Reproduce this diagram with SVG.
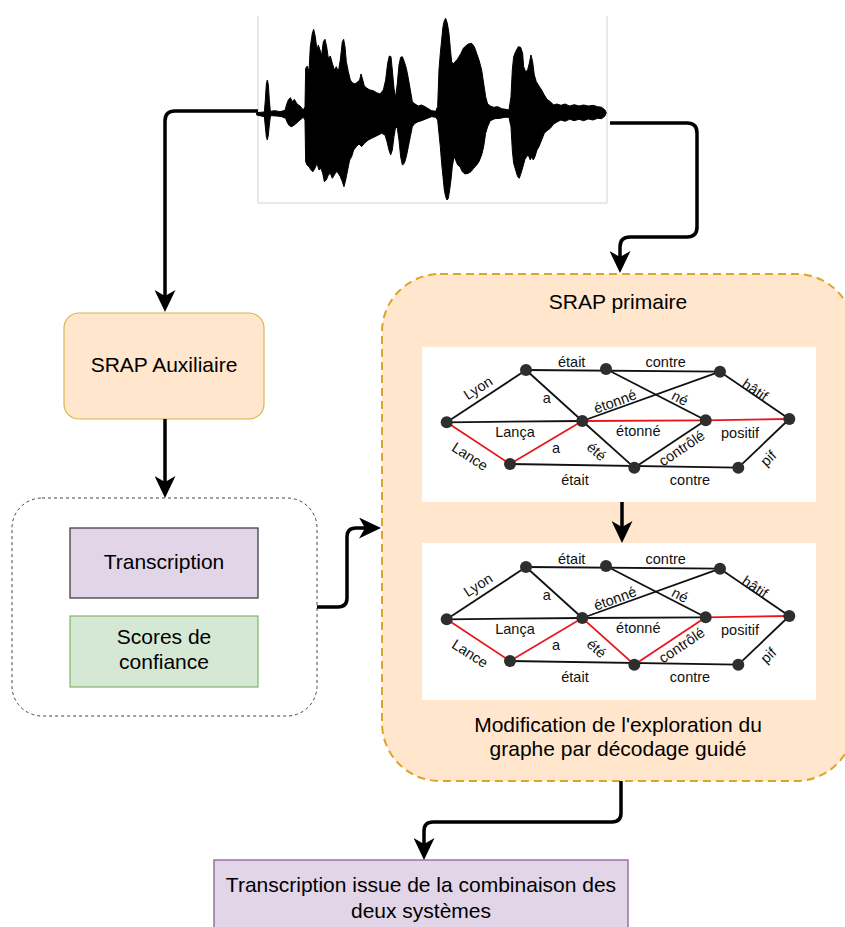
<svg xmlns="http://www.w3.org/2000/svg" width="845" height="927" viewBox="0 0 845 927">
  <style>
    .lbl { font-family: "Liberation Sans", Arial, Helvetica, sans-serif; font-size: 21px; fill: #000; text-anchor: middle; }
    .gl { font-family: "Liberation Sans", Arial, Helvetica, sans-serif; font-size: 14.5px; fill: #111; text-anchor: middle; dominant-baseline: central; }
    .conn { fill: none; stroke: #000; stroke-width: 3.5; stroke-linejoin: round; marker-end: url(#arrow); }
    .e { stroke: #111; stroke-width: 1.8; fill: none; }
    .r { stroke: #e8161c; stroke-width: 1.8; fill: none; }
    .n { fill: #2e2e2e; }
  </style>
  <defs>
    <marker id="arrow" viewBox="0 0 22 21" refX="6" refY="10.5" markerWidth="22" markerHeight="21" markerUnits="userSpaceOnUse" orient="auto">
      <path d="M0,0 L22,10.5 L0,21 L6,10.5 Z" fill="#000"/>
    </marker>
  </defs>

  <rect width="845" height="927" fill="#fff"/>

  <!-- audio signal -->
  <g id="waveform">
    <rect x="258" y="15" width="349" height="188" fill="#fff"/>
    <path d="M258,16 V203 H607 V16" fill="none" stroke="#d2d2d2" stroke-width="1"/>
    <g transform="translate(255,0) scale(0.3333)">
      <path fill="#000" stroke="#000" stroke-width="3" stroke-linejoin="miter" d="M 5,338 L 28,336 L 31,300 L 34,252 L 37,240 L 40,255 L 43,300 L 46,334 L 60,332 L 75,335 L 90,331 L 96,310 L 100,300 L 106,293 L 112,305 L 118,298 L 126,312 L 135,318 L 145,330 L 150,320 L 152,205 L 157,198 L 162,215 L 166,140 L 172,100 L 176,88 L 181,110 L 186,150 L 190,135 L 195,150 L 200,165 L 205,125 L 210,118 L 215,140 L 220,175 L 226,168 L 232,190 L 238,210 L 244,200 L 250,215 L 256,180 L 262,125 L 266,118 L 270,140 L 274,185 L 280,215 L 286,240 L 292,248 L 300,252 L 308,246 L 314,240 L 318,222 L 322,235 L 328,258 L 336,265 L 345,270 L 355,272 L 365,278 L 375,282 L 385,270 L 392,240 L 398,190 L 403,168 L 408,170 L 412,210 L 417,265 L 422,292 L 427,250 L 432,195 L 437,172 L 442,170 L 448,185 L 454,205 L 460,235 L 466,270 L 472,305 L 480,312 L 490,318 L 500,315 L 510,320 L 520,326 L 530,332 L 542,334 L 548,320 L 552,210 L 556,160 L 560,120 L 564,80 L 568,62 L 572,55 L 577,70 L 582,100 L 586,145 L 590,185 L 595,192 L 600,185 L 606,180 L 612,170 L 618,160 L 625,145 L 632,138 L 640,132 L 650,130 L 658,140 L 665,160 L 672,180 L 680,210 L 686,250 L 692,290 L 698,312 L 706,318 L 716,322 L 728,320 L 740,326 L 752,328 L 762,330 L 768,290 L 772,210 L 776,170 L 782,155 L 790,140 L 797,142 L 803,160 L 806,200 L 812,215 L 818,210 L 823,190 L 828,165 L 833,185 L 838,225 L 844,245 L 852,258 L 860,270 L 868,285 L 876,298 L 886,305 L 896,315 L 906,312 L 918,316 L 930,312 L 944,318 L 958,314 L 972,318 L 986,315 L 1000,318 L 1014,316 L 1028,320 L 1040,322 L 1050,330 L 1054,338 L 1050,348 L 1040,356 L 1028,355 L 1014,360 L 1000,357 L 986,362 L 972,358 L 958,362 L 944,358 L 930,364 L 918,360 L 906,366 L 896,372 L 886,385 L 876,392 L 868,400 L 860,420 L 852,440 L 846,450 L 840,470 L 835,480 L 830,470 L 826,480 L 820,465 L 815,470 L 810,478 L 804,500 L 798,520 L 793,535 L 788,530 L 782,510 L 776,490 L 772,450 L 768,380 L 762,352 L 750,352 L 735,355 L 720,356 L 706,362 L 698,380 L 692,400 L 686,440 L 680,465 L 672,485 L 665,495 L 656,505 L 648,515 L 640,520 L 630,522 L 622,515 L 615,500 L 608,495 L 602,480 L 597,470 L 592,500 L 588,540 L 584,570 L 580,595 L 576,600 L 572,590 L 568,570 L 564,530 L 560,490 L 556,440 L 552,400 L 548,360 L 542,352 L 530,350 L 520,354 L 510,358 L 500,362 L 490,365 L 480,370 L 472,380 L 466,410 L 460,440 L 454,470 L 448,490 L 442,495 L 437,470 L 432,420 L 427,385 L 422,380 L 417,410 L 412,450 L 407,465 L 402,450 L 396,425 L 390,405 L 380,400 L 370,405 L 360,410 L 350,415 L 340,420 L 330,428 L 320,440 L 312,432 L 304,440 L 296,450 L 290,470 L 284,480 L 278,510 L 272,540 L 267,560 L 262,545 L 256,530 L 250,520 L 244,515 L 238,525 L 232,535 L 226,520 L 220,525 L 214,540 L 208,545 L 203,520 L 198,505 L 192,510 L 186,490 L 180,505 L 174,515 L 168,510 L 162,500 L 156,495 L 152,485 L 150,360 L 145,352 L 135,360 L 126,368 L 118,375 L 110,380 L 104,378 L 98,370 L 92,355 L 80,350 L 65,348 L 50,347 L 46,350 L 43,375 L 40,405 L 37,420 L 34,410 L 31,380 L 28,350 L 5,345 Z"/>
    </g>
  </g>

  <!-- auxiliary recogniser -->
  <g id="srap-auxiliaire">
    <rect x="64" y="313" width="200" height="106" rx="15" fill="#ffe6cc" stroke="#d6b656" stroke-width="1.2"/>
    <text class="lbl" x="164" y="372">SRAP Auxiliaire</text>
  </g>

  <!-- auxiliary outputs -->
  <g id="sorties-auxiliaires">
    <rect x="12" y="498" width="305" height="218" rx="30" fill="#fff" stroke="#444" stroke-width="1" stroke-dasharray="3 3"/>
  </g>
  <g id="transcription">
    <rect x="70" y="528" width="188" height="70" fill="#e1d5e7" stroke="#333" stroke-width="1.2"/>
    <text class="lbl" x="164" y="569">Transcription</text>
  </g>
  <g id="scores">
    <rect x="70" y="616" width="188" height="71" fill="#d5e8d4" stroke="#82b366" stroke-width="1.2"/>
    <text class="lbl" x="164" y="644">Scores de</text>
    <text class="lbl" x="164" y="669">confiance</text>
  </g>

  <!-- primary recogniser -->
  <g id="srap-primaire">
    <rect x="382" y="274" width="472" height="507" rx="58" fill="#ffe6cc" stroke="#dba52a" stroke-width="2" stroke-dasharray="8 5"/>
    <text class="lbl" x="618" y="309">SRAP primaire</text>
    <text class="lbl" x="618" y="732">Modification de l'exploration du</text>
    <text class="lbl" x="618" y="756">graphe par décodage guidé</text>
  </g>

  <!-- word lattice, before guided decoding -->
  <g id="graphe-initial">
    <rect x="422" y="347" width="394" height="155" fill="#fff"/>
    <path class="e" d="M446.7,422.3 L526,370"/>
    <path class="e" d="M526,370 L720,371.7"/>
    <path class="e" d="M720,371.7 L789.3,419"/>
    <path class="e" d="M526,370 L582.3,421"/>
    <path class="e" d="M582.3,421 L720,371.7"/>
    <path class="e" d="M606,369 L705.7,420.3"/>
    <path class="e" d="M446.7,422.3 L582.3,421"/>
    <path class="e" d="M582.3,421 L634.3,467.7"/>
    <path class="e" d="M634.3,467.7 L705.7,420.3"/>
    <path class="e" d="M510,464 L738.3,467.7"/>
    <path class="e" d="M738.3,467.7 L789.3,419"/>
    <path class="r" d="M446.7,422.3 L510,464 L582.3,421"/>
    <path class="r" d="M582.3,421 L705.7,420.3 L789.3,419"/>
    <circle class="n" cx="446.7" cy="422.3" r="6"/>
    <circle class="n" cx="526" cy="370" r="6"/>
    <circle class="n" cx="606" cy="369" r="6"/>
    <circle class="n" cx="720" cy="371.7" r="6"/>
    <circle class="n" cx="789.3" cy="419" r="6"/>
    <circle class="n" cx="582.3" cy="421" r="6"/>
    <circle class="n" cx="705.7" cy="420.3" r="6"/>
    <circle class="n" cx="510" cy="464" r="6"/>
    <circle class="n" cx="634.3" cy="467.7" r="6"/>
    <circle class="n" cx="738.3" cy="467.7" r="6"/>
    <text class="gl" transform="translate(478,388) rotate(-33)">Lyon</text>
    <text class="gl" x="571.7" y="361.5">était</text>
    <text class="gl" x="665.7" y="361.5">contre</text>
    <text class="gl" transform="translate(755,390) rotate(34)">hâtif</text>
    <text class="gl" x="546.7" y="398">a</text>
    <text class="gl" transform="translate(615,401.5) rotate(-20)">étonné</text>
    <text class="gl" transform="translate(680,398) rotate(28)">né</text>
    <text class="gl" x="515" y="431.5">Lança</text>
    <text class="gl" x="638.3" y="431">étonné</text>
    <text class="gl" x="740" y="433">positif</text>
    <text class="gl" transform="translate(470,456.5) rotate(33)">Lance</text>
    <text class="gl" x="556" y="447.5">a</text>
    <text class="gl" transform="translate(596.7,451.5) rotate(42)">été</text>
    <text class="gl" transform="translate(681.7,448.3) rotate(-34)">contrôlé</text>
    <text class="gl" x="575" y="480">était</text>
    <text class="gl" x="690" y="480">contre</text>
    <text class="gl" transform="translate(768.3,458.3) rotate(-44)">pif</text>
  </g>

  <!-- word lattice, after guided decoding -->
  <g id="graphe-modifie" transform="translate(0,197)">
    <rect x="422" y="346" width="394" height="157" fill="#fff"/>
    <path class="e" d="M446.7,422.3 L526,370"/>
    <path class="e" d="M526,370 L720,371.7"/>
    <path class="e" d="M720,371.7 L789.3,419"/>
    <path class="e" d="M526,370 L582.3,421"/>
    <path class="e" d="M582.3,421 L720,371.7"/>
    <path class="e" d="M606,369 L705.7,420.3"/>
    <path class="e" d="M446.7,422.3 L582.3,421"/>
    <path class="e" d="M510,464 L738.3,467.7"/>
    <path class="e" d="M738.3,467.7 L789.3,419"/>
    <path class="e" d="M582.3,421 L705.7,420.3" stroke-width="3.2"/>
    <path class="r" d="M446.7,422.3 L510,464 L582.3,421 L634.3,467.7"/>
    <path class="r" d="M634.3,467.7 L705.7,420.3" stroke-width="3.6"/>
    <path class="r" d="M705.7,420.3 L789.3,419"/>
    <circle class="n" cx="446.7" cy="422.3" r="6"/>
    <circle class="n" cx="526" cy="370" r="6"/>
    <circle class="n" cx="606" cy="369" r="6"/>
    <circle class="n" cx="720" cy="371.7" r="6"/>
    <circle class="n" cx="789.3" cy="419" r="6"/>
    <circle class="n" cx="582.3" cy="421" r="6"/>
    <circle class="n" cx="705.7" cy="420.3" r="6"/>
    <circle class="n" cx="510" cy="464" r="6"/>
    <circle class="n" cx="634.3" cy="467.7" r="6"/>
    <circle class="n" cx="738.3" cy="467.7" r="6"/>
    <text class="gl" transform="translate(478,388) rotate(-33)">Lyon</text>
    <text class="gl" x="571.7" y="361.5">était</text>
    <text class="gl" x="665.7" y="361.5">contre</text>
    <text class="gl" transform="translate(755,390) rotate(34)">hâtif</text>
    <text class="gl" x="546.7" y="398">a</text>
    <text class="gl" transform="translate(615,401.5) rotate(-20)">étonné</text>
    <text class="gl" transform="translate(680,398) rotate(28)">né</text>
    <text class="gl" x="515" y="431.5">Lança</text>
    <text class="gl" x="638.3" y="431">étonné</text>
    <text class="gl" x="740" y="433">positif</text>
    <text class="gl" transform="translate(470,456.5) rotate(33)">Lance</text>
    <text class="gl" x="556" y="447.5">a</text>
    <text class="gl" transform="translate(596.7,451.5) rotate(42)">été</text>
    <text class="gl" transform="translate(681.7,448.3) rotate(-34)">contrôlé</text>
    <text class="gl" x="575" y="480">était</text>
    <text class="gl" x="690" y="480">contre</text>
    <text class="gl" transform="translate(768.3,458.3) rotate(-44)">pif</text>
  </g>

  <!-- combined output -->
  <g id="transcription-finale">
    <rect x="214" y="860" width="414" height="80" fill="#e1d5e7" stroke="#9673a6" stroke-width="1.5"/>
    <text class="lbl" x="421" y="892">Transcription issue de la combinaison des</text>
    <text class="lbl" x="421" y="918">deux systèmes</text>
  </g>

  <!-- connectors -->
  <g id="connecteurs">
    <path class="conn" d="M258,111 L175,111 Q165,111 165,121 L165,296"/>
    <path class="conn" d="M610,123 L687,123 Q697,123 697,133 L697,227 Q697,237 687,237 L630,237 Q620,237 620,247 L620,257"/>
    <path class="conn" d="M165,419 L165,482"/>
    <path class="conn" d="M317,607 L338,607 Q347,607 347,598 L347,537 Q347,528 356,528 L365,528"/>
    <path class="conn" d="M622,502 L622,527"/>
    <path class="conn" d="M621,781 L621,813 Q621,822 612,822 L433,822 Q424,822 424,831 L424,844"/>
  </g>
</svg>
